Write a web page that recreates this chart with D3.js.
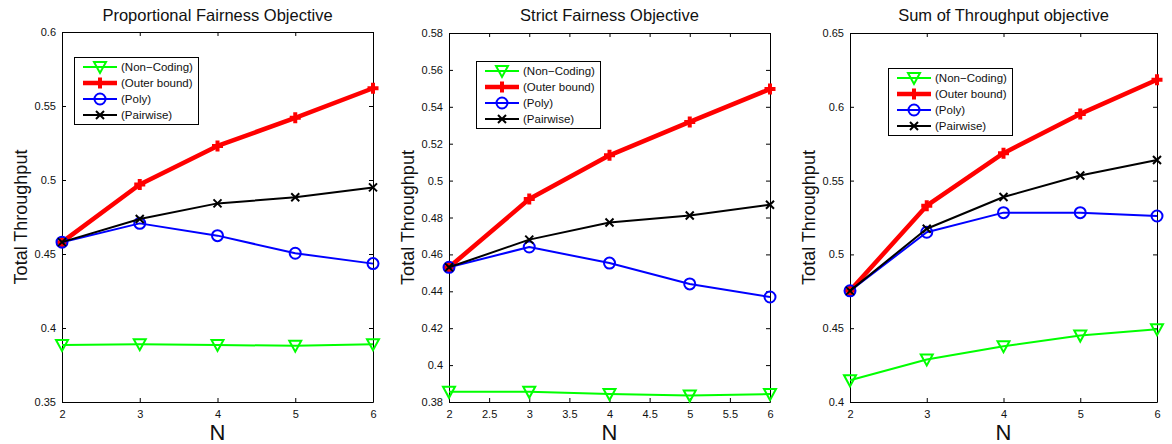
<!DOCTYPE html>
<html>
<head>
<meta charset="utf-8">
<script src="https://cdn.jsdelivr.net/npm/d3@7"></script>
<style>
  body { margin: 0; background: #fff; }
  svg { display: block; font-family: "Liberation Sans", Arial, Helvetica, sans-serif; }
</style>
</head>
<body>
<svg id="chart" width="1172" height="444"></svg>
<script>
// ---- data ----
const nValues = [2, 3, 4, 5, 6];
const seriesNames = ["(Non\u2212Coding)", "(Outer bound)", "(Poly)", "(Pairwise)"];
const panelTitles = ["Proportional Fairness Objective", "Strict Fairness Objective", "Sum of Throughput objective"];

const propNonCoding = [0.3885, 0.3890, 0.3885, 0.3880, 0.3890];
const propOuter     = [0.4580, 0.4970, 0.5230, 0.5420, 0.5620];
const propPoly      = [0.4580, 0.4707, 0.4624, 0.4505, 0.4435];
const propPairwise  = [0.4580, 0.4736, 0.4842, 0.4883, 0.4950];

const strictNonCoding = [0.3855, 0.3855, 0.3843, 0.3835, 0.3843];
const strictOuter     = [0.4530, 0.4900, 0.5137, 0.5318, 0.5496];
const strictPoly      = [0.4530, 0.4640, 0.4553, 0.4440, 0.4369];
const strictPairwise  = [0.4530, 0.4680, 0.4773, 0.4811, 0.4869];

const sumNonCoding = [0.4147, 0.4288, 0.4378, 0.4450, 0.4493];
const sumOuter     = [0.4753, 0.5330, 0.5686, 0.5952, 0.6183];
const sumPoly      = [0.4753, 0.5150, 0.5283, 0.5283, 0.5260];
const sumPairwise  = [0.4753, 0.5174, 0.5389, 0.5534, 0.5640];

const intXTicks = [2, 3, 4, 5, 6];
const halfXTicks = [2, 2.5, 3, 3.5, 4, 4.5, 5, 5.5, 6];
const propYTicks = [0.35, 0.4, 0.45, 0.5, 0.55, 0.6];
const strictYTicks = [0.38, 0.4, 0.42, 0.44, 0.46, 0.48, 0.5, 0.52, 0.54, 0.56, 0.58];
const sumYTicks = [0.4, 0.45, 0.5, 0.55, 0.6, 0.65];

// ---- layout / style ----
const LAYOUT = {
    TICK: 4,
    LEGEND_W: 124,
    LEGEND_H: 67,
    ROW: 16,
};

const SERIES_STYLES = [
    { color: "#00ff00", width: 2,   marker: "tri" },
    { color: "#ff0000", width: 4.5, marker: "plus" },
    { color: "#0000ff", width: 2,   marker: "circle" },
    { color: "#000000", width: 2,   marker: "x" },
];

const panels = [
    { title: panelTitles[0], left: 62, right: 373, top: 32, bottom: 402,
      xTicks: intXTicks, yTicks: propYTicks,
      series: [propNonCoding, propOuter, propPoly, propPairwise], legend: [74, 57] },
    { title: panelTitles[1], left: 449, right: 770, top: 33, bottom: 402,
      xTicks: halfXTicks, yTicks: strictYTicks,
      series: [strictNonCoding, strictOuter, strictPoly, strictPairwise], legend: [476, 61] },
    { title: panelTitles[2], left: 850, right: 1157, top: 33, bottom: 402,
      xTicks: intXTicks, yTicks: sumYTicks,
      series: [sumNonCoding, sumOuter, sumPoly, sumPairwise], legend: [888, 68] },
];

const svg = d3.select("#chart");

function drawMarker(sel, style) {
    const stroke = style.marker === "plus" ? 4 : 2;
    if (style.marker === "circle") {
        sel.append("circle").attr("r", 5.5)
            .attr("fill", "none").attr("stroke", style.color).attr("stroke-width", stroke);
        return;
    }
    const paths = {
        tri: "M-6,-5L6,-5L0,6Z",
        plus: "M-5.5,0H5.5M0,-5.5V5.5",
        x: "M-4,-4L4,4M-4,4L4,-4",
    };
    sel.append("path").attr("d", paths[style.marker])
        .attr("fill", "none").attr("stroke", style.color).attr("stroke-width", stroke);
}

function drawPanel(p) {
    const x = d3.scaleLinear().domain([2, 6]).range([p.left, p.right]);
    const y = d3.scaleLinear().domain([p.yTicks[0], p.yTicks[p.yTicks.length - 1]]).range([p.bottom, p.top]);
    const g = svg.append("g");

    // frame + inward ticks on all four sides
    const styleAxis = a => a.call(s => s.select(".domain").attr("stroke", "#000"))
        .call(s => s.selectAll("line").attr("stroke", "#000"))
        .call(s => s.selectAll("text").attr("fill", "#111").attr("font-size", "11px").attr("font-family", null));

    g.append("g").attr("transform", `translate(0,${p.bottom})`)
        .call(d3.axisBottom(x).tickValues(p.xTicks).tickSizeInner(-LAYOUT.TICK).tickSizeOuter(0).tickPadding(8).tickFormat(d => String(d)))
        .call(styleAxis);
    g.append("g").attr("transform", `translate(0,${p.top})`)
        .call(d3.axisTop(x).tickValues(p.xTicks).tickSizeInner(-LAYOUT.TICK).tickSizeOuter(0).tickFormat(""))
        .call(styleAxis);
    g.append("g").attr("transform", `translate(${p.left},0)`)
        .call(d3.axisLeft(y).tickValues(p.yTicks).tickSizeInner(-LAYOUT.TICK).tickSizeOuter(0).tickPadding(6).tickFormat(d => String(d)))
        .call(styleAxis);
    g.append("g").attr("transform", `translate(${p.right},0)`)
        .call(d3.axisRight(y).tickValues(p.yTicks).tickSizeInner(-LAYOUT.TICK).tickSizeOuter(0).tickFormat(""))
        .call(styleAxis);

    // series, in plotting order
    const line = d3.line().x(d => x(d[0])).y(d => y(d[1]));
    p.series.forEach((vals, i) => {
        const st = SERIES_STYLES[i];
        const pts = nValues.map((n, k) => [n, vals[k]]);
        g.append("path").datum(pts)
            .attr("fill", "none").attr("stroke", st.color)
            .attr("stroke-width", st.width).attr("stroke-linejoin", "round")
            .attr("d", line);
        g.append("g").selectAll("g").data(pts).join("g")
            .attr("transform", d => `translate(${x(d[0])},${y(d[1])})`)
            .each(function() { drawMarker(d3.select(this), st); });
    });

    // legend
    const [lx, ly] = p.legend;
    const lg = g.append("g").attr("transform", `translate(${lx},${ly})`);
    lg.append("rect").attr("x", 0.5).attr("y", 0.5)
        .attr("width", LAYOUT.LEGEND_W).attr("height", LAYOUT.LEGEND_H)
        .attr("fill", "#fff").attr("stroke", "#000").attr("stroke-width", 1);
    seriesNames.forEach((name, i) => {
        const st = SERIES_STYLES[i];
        const ry = 10 + i * LAYOUT.ROW;
        lg.append("line").attr("x1", 9).attr("x2", 43).attr("y1", ry).attr("y2", ry)
            .attr("stroke", st.color).attr("stroke-width", st.width);
        drawMarker(lg.append("g").attr("transform", `translate(26,${ry})`), st);
        lg.append("text").attr("x", 47).attr("y", ry).attr("dy", "0.35em")
            .attr("font-size", "11.5px").attr("fill", "#111").text(name);
    });

    // titles
    const cx = (p.left + p.right) / 2;
    svg.append("text").attr("x", cx).attr("y", 21).attr("text-anchor", "middle")
        .attr("font-size", "16.5px").attr("fill", "#111").text(p.title);
    svg.append("text").attr("x", cx).attr("y", 440).attr("text-anchor", "middle")
        .attr("font-size", "22px").attr("fill", "#111").text("N");
    svg.append("text")
        .attr("transform", `translate(${p.left - 35},${(p.top + p.bottom) / 2}) rotate(-90)`)
        .attr("text-anchor", "middle").attr("font-size", "18px").attr("fill", "#111")
        .text("Total Throughput");
}

panels.forEach(drawPanel);
</script>
</body>
</html>
